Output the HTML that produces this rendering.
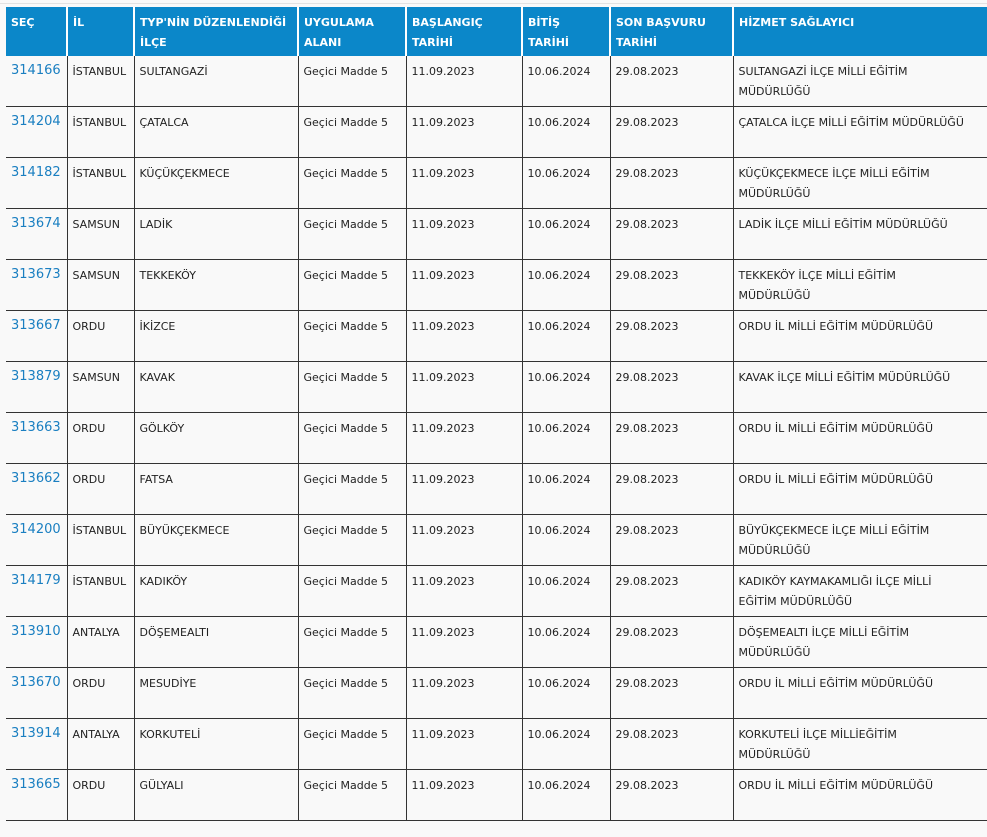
<!DOCTYPE html>
<html><head><meta charset="utf-8"><style>
body{margin:0;width:987px;height:837px;overflow:hidden;background:#f9f9f9;font-family:"DejaVu Sans","Liberation Sans",sans-serif;position:relative}
.top{position:absolute;left:0;top:3px;width:987px;height:1px;background:#e2e2e2}
table{position:absolute;left:6px;top:7px;border-collapse:collapse;table-layout:fixed;width:1000px}
th{background:#0b87c9;color:#fff;font-size:11px;font-weight:bold;text-align:left;vertical-align:top;padding:6px 5px 0 5px;height:43px;line-height:20px;border-left:2px solid #fff}
th:first-child{border-left:none}
td{font-size:11px;color:#222;vertical-align:top;padding:6px 5px 0 5px;height:44px;line-height:20px;border:1px solid #333;border-top:none}
td:first-child{border-left:none;color:#1a7fc1;font-size:13px;padding-top:5px}
td:last-child{white-space:nowrap}
</style></head><body>
<div class="top"></div>
<table>
<colgroup><col style="width:61px"><col style="width:67px"><col style="width:164px"><col style="width:108px"><col style="width:116px"><col style="width:88px"><col style="width:123px"><col style="width:273px"></colgroup>
<tr><th>SEÇ</th><th>İL</th><th>TYP'NİN DÜZENLENDİĞİ İLÇE</th><th>UYGULAMA ALANI</th><th>BAŞLANGIÇ TARİHİ</th><th>BİTİŞ TARİHİ</th><th>SON BAŞVURU TARİHİ</th><th>HİZMET SAĞLAYICI</th></tr>
<tr><td>314166</td><td>İSTANBUL</td><td>SULTANGAZİ</td><td>Geçici Madde 5</td><td>11.09.2023</td><td>10.06.2024</td><td>29.08.2023</td><td>SULTANGAZİ İLÇE MİLLİ EĞİTİM<br>MÜDÜRLÜĞÜ</td></tr>
<tr><td>314204</td><td>İSTANBUL</td><td>ÇATALCA</td><td>Geçici Madde 5</td><td>11.09.2023</td><td>10.06.2024</td><td>29.08.2023</td><td>ÇATALCA İLÇE MİLLİ EĞİTİM MÜDÜRLÜĞÜ</td></tr>
<tr><td>314182</td><td>İSTANBUL</td><td>KÜÇÜKÇEKMECE</td><td>Geçici Madde 5</td><td>11.09.2023</td><td>10.06.2024</td><td>29.08.2023</td><td>KÜÇÜKÇEKMECE İLÇE MİLLİ EĞİTİM<br>MÜDÜRLÜĞÜ</td></tr>
<tr><td>313674</td><td>SAMSUN</td><td>LADİK</td><td>Geçici Madde 5</td><td>11.09.2023</td><td>10.06.2024</td><td>29.08.2023</td><td>LADİK İLÇE MİLLİ EĞİTİM MÜDÜRLÜĞÜ</td></tr>
<tr><td>313673</td><td>SAMSUN</td><td>TEKKEKÖY</td><td>Geçici Madde 5</td><td>11.09.2023</td><td>10.06.2024</td><td>29.08.2023</td><td>TEKKEKÖY İLÇE MİLLİ EĞİTİM<br>MÜDÜRLÜĞÜ</td></tr>
<tr><td>313667</td><td>ORDU</td><td>İKİZCE</td><td>Geçici Madde 5</td><td>11.09.2023</td><td>10.06.2024</td><td>29.08.2023</td><td>ORDU İL MİLLİ EĞİTİM MÜDÜRLÜĞÜ</td></tr>
<tr><td>313879</td><td>SAMSUN</td><td>KAVAK</td><td>Geçici Madde 5</td><td>11.09.2023</td><td>10.06.2024</td><td>29.08.2023</td><td>KAVAK İLÇE MİLLİ EĞİTİM MÜDÜRLÜĞÜ</td></tr>
<tr><td>313663</td><td>ORDU</td><td>GÖLKÖY</td><td>Geçici Madde 5</td><td>11.09.2023</td><td>10.06.2024</td><td>29.08.2023</td><td>ORDU İL MİLLİ EĞİTİM MÜDÜRLÜĞÜ</td></tr>
<tr><td>313662</td><td>ORDU</td><td>FATSA</td><td>Geçici Madde 5</td><td>11.09.2023</td><td>10.06.2024</td><td>29.08.2023</td><td>ORDU İL MİLLİ EĞİTİM MÜDÜRLÜĞÜ</td></tr>
<tr><td>314200</td><td>İSTANBUL</td><td>BÜYÜKÇEKMECE</td><td>Geçici Madde 5</td><td>11.09.2023</td><td>10.06.2024</td><td>29.08.2023</td><td>BÜYÜKÇEKMECE İLÇE MİLLİ EĞİTİM<br>MÜDÜRLÜĞÜ</td></tr>
<tr><td>314179</td><td>İSTANBUL</td><td>KADIKÖY</td><td>Geçici Madde 5</td><td>11.09.2023</td><td>10.06.2024</td><td>29.08.2023</td><td>KADIKÖY KAYMAKAMLIĞI İLÇE MİLLİ<br>EĞİTİM MÜDÜRLÜĞÜ</td></tr>
<tr><td>313910</td><td>ANTALYA</td><td>DÖŞEMEALTI</td><td>Geçici Madde 5</td><td>11.09.2023</td><td>10.06.2024</td><td>29.08.2023</td><td>DÖŞEMEALTI İLÇE MİLLİ EĞİTİM<br>MÜDÜRLÜĞÜ</td></tr>
<tr><td>313670</td><td>ORDU</td><td>MESUDİYE</td><td>Geçici Madde 5</td><td>11.09.2023</td><td>10.06.2024</td><td>29.08.2023</td><td>ORDU İL MİLLİ EĞİTİM MÜDÜRLÜĞÜ</td></tr>
<tr><td>313914</td><td>ANTALYA</td><td>KORKUTELİ</td><td>Geçici Madde 5</td><td>11.09.2023</td><td>10.06.2024</td><td>29.08.2023</td><td>KORKUTELİ İLÇE MİLLİEĞİTİM<br>MÜDÜRLÜĞÜ</td></tr>
<tr><td>313665</td><td>ORDU</td><td>GÜLYALI</td><td>Geçici Madde 5</td><td>11.09.2023</td><td>10.06.2024</td><td>29.08.2023</td><td>ORDU İL MİLLİ EĞİTİM MÜDÜRLÜĞÜ</td></tr>
</table>
</body></html>
